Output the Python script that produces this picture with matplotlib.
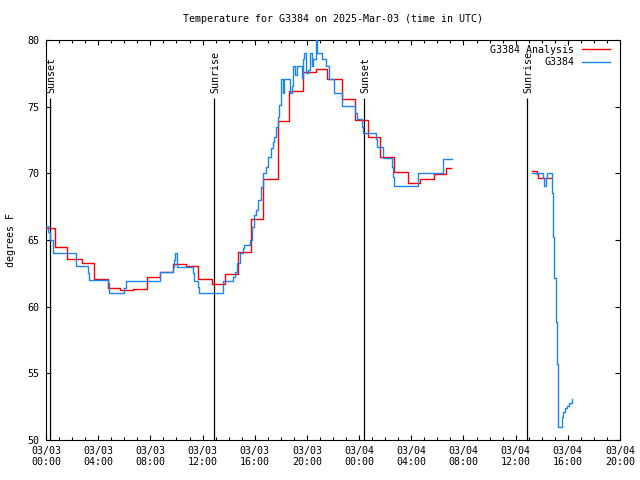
import numpy as np
import matplotlib
matplotlib.use("Agg")
import matplotlib.pyplot as plt
from matplotlib.ticker import FuncFormatter, MultipleLocator

plt.rcParams['font.family'] = ['DejaVu Sans Mono']
plt.rcParams['font.size'] = 7.2

# hours since 2025-03-03 00:00 UTC; NaN separates data gaps
analysis_hours = [0.0, 0.69, 1.63, 2.74, 3.70, 4.73, 5.67, 6.69, 7.72, 8.74, 9.76, 10.71,
                  11.67, 12.70, 13.72, 14.74, 15.69, 16.66, 17.76, 18.65, 19.67, 20.70,
                  21.57, 22.72, 23.69, 24.71, 25.62, 26.68, 27.72, 28.67, 29.74, 30.70, 31.05,
                  np.nan,
                  37.23, 37.61, 37.73, 38.77]
analysis_temp = [65.9, 64.45, 63.55, 63.3, 62.05, 61.4, 61.25, 61.3, 62.2, 62.6, 63.2, 63.05,
                 62.05, 61.7, 62.45, 64.07, 66.55, 69.6, 73.95, 76.2, 77.63, 77.8,
                 77.05, 75.55, 74.0, 72.75, 71.25, 70.1, 69.25, 69.6, 69.95, 70.37, 70.37,
                 np.nan,
                 70.18, 69.95, 69.63, 69.63]

obs_hours = [0.0, 0.18, 0.31, 0.56, 2.27, 3.25, 3.32, 4.73, 4.86, 6.0, 6.11, 8.74, 9.71, 9.81,
             9.89, 10.02, 10.07, 11.25, 11.35, 11.68, 11.75, 13.59, 14.36, 14.49, 14.67,
             14.87, 15.13, 15.18, 15.64, 15.77, 15.94, 16.1, 16.28, 16.46, 16.66, 16.86,
             17.04, 17.22, 17.38, 17.5, 17.63, 17.76, 17.89, 17.99, 18.14, 18.27, 18.7,
             18.83, 18.96, 19.09, 19.22, 19.6, 19.68, 19.8, 19.91, 20.06, 20.24, 20.37,
             20.49, 20.7, 20.8, 21.13, 21.46, 21.72, 22.08, 22.67, 23.69, 23.82, 24.2,
             24.32, 25.3, 25.4, 25.81, 26.5, 26.63, 26.68, 28.54, 30.46, 31.12,
             np.nan,
             37.23, 38.12, 38.2, 38.33, 38.43, 38.81, 38.89, 38.97, 39.07, 39.15, 39.22,
             39.27, 39.58, 39.66, 39.79, 39.92, 40.12, 40.35]
obs_temp = [66.05, 65.63, 65.0, 64.0, 63.05, 62.55, 62.0, 61.75, 61.05, 61.38, 61.95, 62.58,
            63.0, 63.5, 64.0, 63.5, 63.0, 62.55, 61.95, 61.5, 61.05, 61.95, 62.25, 62.63,
            63.25, 64.0, 64.38, 64.63, 65.0, 66.0, 66.88, 67.25, 68.0, 69.0, 70.0, 70.5,
            71.25, 71.88, 72.38, 72.75, 73.5, 74.25, 75.13, 77.05, 76.05, 77.05, 76.05,
            76.55, 78.05, 77.38, 78.05, 77.13, 78.55, 79.0, 77.5, 77.75, 79.0, 78.05,
            78.55, 80.3, 79.05, 78.55, 78.05, 77.05, 76.0, 75.05, 74.5, 74.05, 73.5,
            73.0, 72.55, 72.0, 71.13, 70.5, 69.75, 69.05, 70.0, 71.05, 71.05,
            np.nan,
            70.0, 69.63, 69.05, 69.63, 70.0, 68.5, 65.25, 62.13, 58.88, 55.7, 52.55,
            51.0, 51.75, 52.13, 52.38, 52.55, 52.8, 53.05]

sun_hours = [0.31, 12.88, 24.38, 36.87]
sun_labels = ["Sunset", "Sunrise", "Sunset", "Sunrise"]

title = "Temperature for G3384 on 2025-Mar-03 (time in UTC)"
ylabel = "degrees F"
analysis_label = "G3384 Analysis"
obs_label = "G3384"


def segments(t, v):
    t = np.asarray(t, float)
    v = np.asarray(v, float)
    idx = np.where(np.isnan(t))[0]
    starts = np.concatenate([[0], idx + 1])
    ends = np.concatenate([idx, [len(t)]])
    return [(t[s:e], v[s:e]) for s, e in zip(starts, ends)]


fig = plt.figure(figsize=(6.4, 4.8), dpi=100)
ax = fig.add_axes([46 / 640, 40 / 480, 574 / 640, 400 / 480])

red = '#ff0000'
blue = '#1a84f0'

for i, (t, v) in enumerate(segments(analysis_hours, analysis_temp)):
    ax.step(t, v, where='post', color=red, lw=1.0,
            label=analysis_label if i == 0 else None, zorder=3)
for i, (t, v) in enumerate(segments(obs_hours, obs_temp)):
    ax.step(t, v, where='post', color=blue, lw=1.0,
            label=obs_label if i == 0 else None, zorder=4)

for h, lab in zip(sun_hours, sun_labels):
    ax.vlines(h, 50, 75.65, color='black', lw=0.9, zorder=2)
    ax.text(h + 0.08, 76.05, lab, rotation=90, ha='center', va='bottom', fontsize=7.2)

ax.set_xlim(0, 44)
ax.set_ylim(50, 80)
ax.xaxis.set_major_locator(MultipleLocator(4))
ax.xaxis.set_minor_locator(MultipleLocator(1))
ax.yaxis.set_major_locator(MultipleLocator(5))


def fmt(h, pos):
    day = 3 + int(h // 24)
    hh = int(round(h % 24))
    return f"03/{day:02d}\n{hh:02d}:00"


ax.xaxis.set_major_formatter(FuncFormatter(fmt))
ax.yaxis.set_major_formatter(FuncFormatter(lambda v, p: f"{int(v)}"))
ax.tick_params(axis='both', which='both', direction='in', top=True, right=True,
               width=0.8, labelsize=7.2, color='black')
ax.tick_params(axis='x', which='major', length=3.6, pad=4)
ax.tick_params(axis='x', which='minor', length=2.0)
ax.tick_params(axis='y', which='major', length=3.6, pad=5)
for s in ax.spines.values():
    s.set_linewidth(0.8)

fig.text(333 / 640, 1 - 19 / 480, title, ha='center', va='center', fontsize=7.2)
fig.text(11 / 640, 0.5, ylabel, rotation=90, ha='center', va='center', fontsize=7.2)

leg = ax.legend(loc='upper right', bbox_to_anchor=((609.5 - 46) / 574, 1 - 5 / 400),
                markerfirst=False, frameon=False, borderpad=0, borderaxespad=0,
                handlelength=2.8, handletextpad=0.7, labelspacing=0.25, fontsize=7.2)
for txt in leg.get_texts():
    txt.set_ha('right')

fig.savefig('out.png', dpi=100)
